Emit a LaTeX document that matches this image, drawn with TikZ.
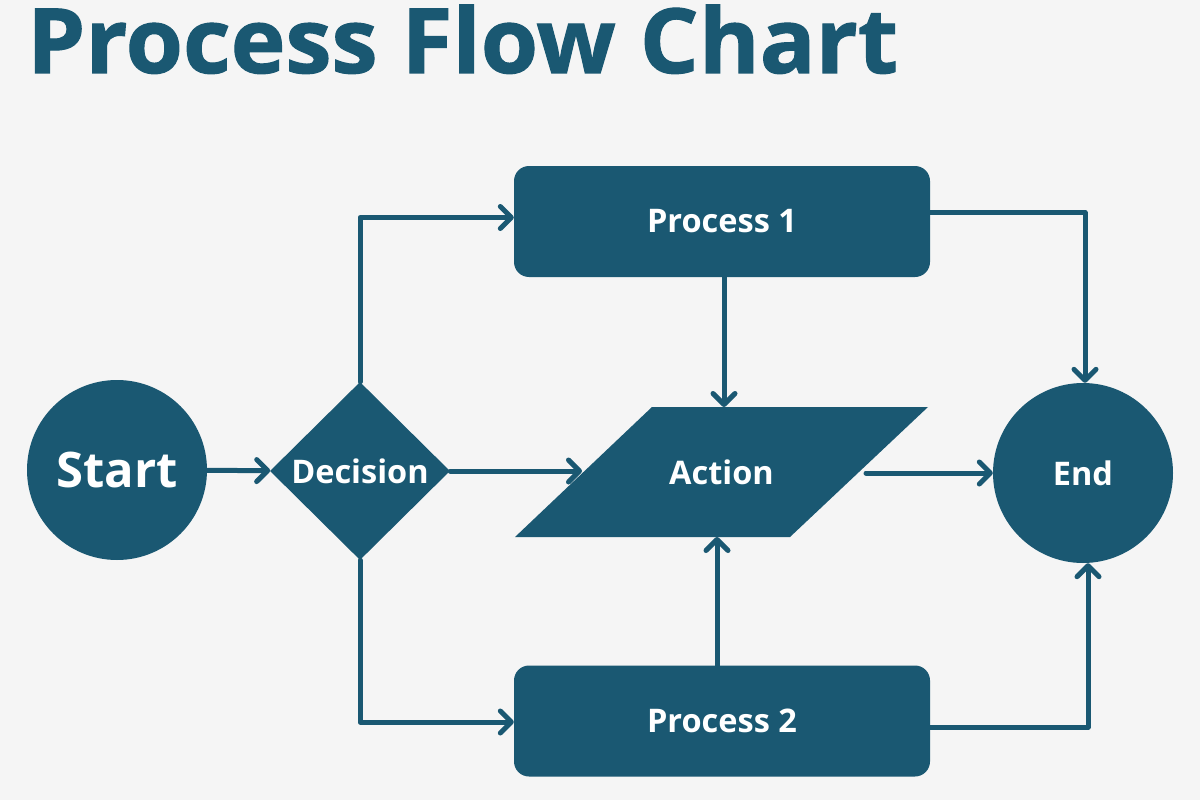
\documentclass[tikz,border=0pt]{standalone}
\usepackage{fontspec}
\setmainfont{Open Sans}
\newfontfamily\titlefont[BoldFeatures={FakeBold=1.2}]{Open Sans}
\usetikzlibrary{arrows.meta,shapes.geometric}
\definecolor{flowblue}{HTML}{1A5872}
\definecolor{bgcol}{HTML}{F5F5F5}
\begin{document}
\begin{tikzpicture}[x=1pt,y=-1pt,
  shapebase/.style={fill=flowblue,text=white,font=\bfseries\fontsize{32.5}{36}\selectfont,inner sep=0pt},
  circnode/.style={shapebase,circle,minimum size=180pt},
  procbox/.style={shapebase,rectangle,rounded corners=15pt,minimum width=416pt,minimum height=111pt},
  decnode/.style={shapebase,diamond,minimum width=180pt,minimum height=178pt},
  acttext/.style={text=white,font=\bfseries\fontsize{32.5}{36}\selectfont,inner sep=0pt},
  arr/.style={draw=flowblue,line width=5pt,line cap=round,line join=round,-{Straight Barb[length=11pt,width=22pt,round]}}
]
\fill[bgcol] (0,0) rectangle (1200,800);
\useasboundingbox (0,0) rectangle (1200,800);
\node[anchor=base west,inner sep=0pt,text=flowblue,font=\titlefont\bfseries\fontsize{90}{96}\selectfont,xscale=1.03] (title) at (27,73) {Process Flow Chart};
\node[circnode,font=\bfseries\fontsize{49}{54}\selectfont] (start) at (117,470) {Start};
\node[decnode] (dec) at (360,471) {Decision};
% parallelogram for the Action step
\fill[flowblue] (652,407) coordinate (actTL) -- (928,407) coordinate (actTR)
  -- (790,537) coordinate (actBR) -- (515,537) coordinate (actBL) -- cycle;
\node[acttext] (action) at (721.5,472) {Action};
\coordinate (actL) at (582,473);
\coordinate (actR) at (866,473);
\coordinate (actN) at (724,407);
\coordinate (actS) at (717,537);
\node[procbox] (p1) at (722,221.5) {Process 1};
\node[procbox] (p2) at (722,721) {Process 2};
\node[circnode] (end) at (1083,473) {End};
\draw[arr] (start) -- (dec);
\draw[arr] (dec.north) |- ([yshift=4pt]p1.west);
\draw[arr] (dec.south) |- ([yshift=-1pt]p2.west);
\draw[arr] (dec.east) -- (dec.east -| actL);
\draw[arr] ([xshift=2pt]p1.south) -- ([xshift=2pt]p1.south |- actN);
\draw[arr] ([xshift=-5pt]p2.north) -- ([xshift=-5pt]p2.north |- actS);
\draw[arr] (actR) -- (end);
\draw[arr] ([yshift=9pt]p1.east) -| ([xshift=2pt]end.north);
\draw[arr] ([yshift=-6pt]p2.east) -| ([xshift=5pt]end.south);
\end{tikzpicture}
\end{document}
